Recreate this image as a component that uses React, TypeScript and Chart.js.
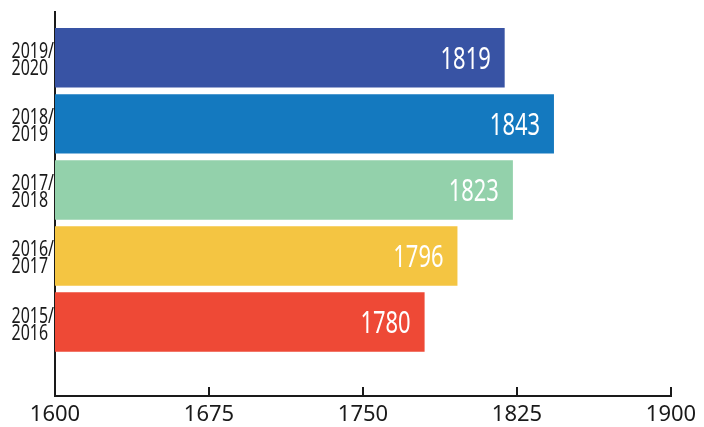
import React, { useEffect, useRef } from "react";
import { Chart, registerables } from "chart.js";

Chart.register(...registerables);

// Academic years, top to bottom
const seasons: string[][] = [
  ["2019/", "2020"],
  ["2018/", "2019"],
  ["2017/", "2018"],
  ["2016/", "2017"],
  ["2015/", "2016"],
];
const totals: number[] = [1819, 1843, 1823, 1796, 1780];
const barColors: string[] = ["#3853a4", "#1479bf", "#93d1ab", "#f4c542", "#ee4936"];
const xTicks: number[] = [1600, 1675, 1750, 1825, 1900];

const sans = '"Noto Sans", "Open Sans", sans-serif';
const ink = "#1a1a1a";

// Condensed text: draw with a horizontal squeeze
function squeezedText(
  ctx: CanvasRenderingContext2D,
  text: string,
  x: number,
  y: number,
  squeeze: number
) {
  ctx.save();
  ctx.translate(x, y);
  ctx.scale(squeeze, 1);
  ctx.fillText(text, 0, 0);
  ctx.restore();
}

const valueLabels = {
  id: "valueLabels",
  afterDatasetsDraw(chart: Chart) {
    const ctx = chart.ctx;
    const meta = chart.getDatasetMeta(0);
    ctx.save();
    ctx.font = `400 30px ${sans}`;
    ctx.fillStyle = "#ffffff";
    ctx.textAlign = "right";
    ctx.textBaseline = "alphabetic";
    meta.data.forEach((bar: any, i: number) => {
      squeezedText(ctx, String(totals[i]), bar.x - 14, bar.y + 11, 0.73);
    });
    ctx.restore();
  },
};

const seasonLabels = {
  id: "seasonLabels",
  afterDraw(chart: Chart) {
    const ctx = chart.ctx;
    const yScale: any = chart.scales.y;
    const axisX = chart.chartArea.left;
    const squeeze = 0.76;
    ctx.save();
    ctx.font = `400 21px ${sans}`;
    ctx.fillStyle = ink;
    ctx.textAlign = "left";
    ctx.textBaseline = "alphabetic";
    seasons.forEach((lines, i) => {
      const cy = yScale.getPixelForValue(i);
      const w = ctx.measureText(lines[0]).width * squeeze;
      const x0 = axisX - 1 - w;
      squeezedText(ctx, lines[0], x0, cy + 0.5, squeeze);
      squeezedText(ctx, lines[1], x0, cy + 17.5, squeeze);
    });
    ctx.restore();
  },
};

// Short tick marks that rise from the value axis into the plot
const innerTicks = {
  id: "innerTicks",
  afterDraw(chart: Chart) {
    const ctx = chart.ctx;
    const xScale: any = chart.scales.x;
    const base = xScale.top;
    ctx.save();
    ctx.fillStyle = ink;
    xTicks.slice(1).forEach((v) => {
      const x = Math.round(xScale.getPixelForValue(v));
      ctx.fillRect(x - 1, base - 9, 2, 10);
    });
    ctx.restore();
  },
};

export default function App() {
  const canvasRef = useRef<HTMLCanvasElement | null>(null);

  useEffect(() => {
    if (!canvasRef.current) return;
    const chart = new Chart(canvasRef.current, {
      type: "bar",
      data: {
        datasets: [
          {
            data: totals.map((v, i) => ({ x: v, y: i })),
            backgroundColor: barColors,
            borderWidth: 0,
            categoryPercentage: 1,
            barPercentage: 0.9,
          },
        ],
      },
      options: {
        indexAxis: "y",
        animation: false,
        responsive: true,
        maintainAspectRatio: false,
        layout: { padding: { top: 12, right: 33, left: 0, bottom: 0 } },
        plugins: { legend: { display: false }, tooltip: { enabled: false } },
        scales: {
          x: {
            type: "linear",
            min: 1600,
            max: 1900,
            afterBuildTicks: (scale: any) => {
              scale.ticks = xTicks.map((v) => ({ value: v }));
            },
            afterFit: (scale: any) => {
              scale.height = 31;
              scale.paddingLeft = 0;
              scale.paddingRight = 0;
            },
            ticks: {
              padding: 6,
              color: ink,
              font: { family: sans, size: 22 },
              maxRotation: 0,
              callback: (value: any) => String(value),
            },
            grid: { drawOnChartArea: false, drawTicks: false },
            border: { display: true, color: ink, width: 2 },
          },
          y: {
            type: "linear",
            reverse: true,
            offset: false,
            min: -0.694,
            max: 5.12,
            afterBuildTicks: (scale: any) => {
              scale.ticks = seasons.map((_, i) => ({ value: i }));
            },
            afterFit: (scale: any) => {
              scale.width = 55;
              scale.paddingTop = 0;
              scale.paddingBottom = 0;
            },
            ticks: { display: false },
            grid: { drawOnChartArea: false, drawTicks: false },
            border: { display: true, color: ink, width: 2 },
          },
        },
      },
      plugins: [valueLabels, seasonLabels, innerTicks],
    });
    return () => chart.destroy();
  }, []);

  return (
    <div style={{ position: "absolute", left: 0, top: 0, width: 704, height: 427, background: "#ffffff" }}>
      <canvas ref={canvasRef} />
    </div>
  );
}
